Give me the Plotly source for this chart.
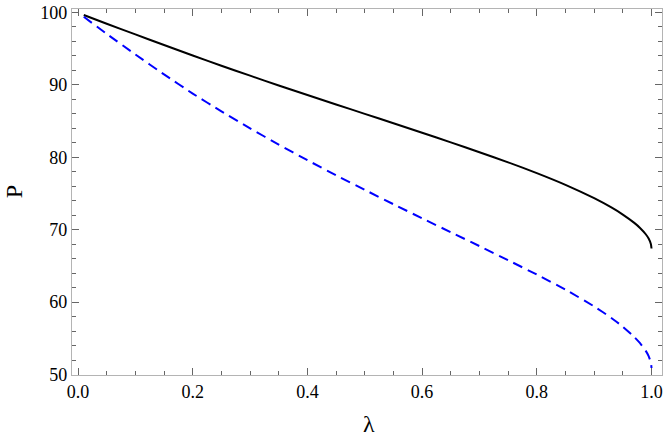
import plotly.graph_objects as go

# lambda values and the two P curves
lam = [0.01, 0.05, 0.1, 0.15, 0.2, 0.25, 0.3, 0.35, 0.4, 0.45, 0.5, 0.55, 0.6,
       0.65, 0.7, 0.75, 0.8, 0.85, 0.9, 0.93, 0.95, 0.97, 0.98, 0.99, 0.995,
       0.999, 1.0]
p_solid = [99.65, 98.45, 96.97, 95.5, 94.06, 92.65, 91.27, 89.92, 88.6, 87.3,
           86.0, 84.7, 83.39, 82.06, 80.7, 79.3, 77.82, 76.2, 74.35, 73.07,
           72.09, 70.94, 70.24, 69.37, 68.77, 68.0, 67.4]
p_dashed = [99.4, 97.05, 94.2, 91.45, 88.8, 86.35, 84.0, 81.75, 79.6, 77.5,
            75.5, 73.52, 71.57, 69.65, 67.73, 65.78, 63.8, 61.72, 59.4, 57.81,
            56.6, 55.18, 54.33, 53.26, 52.54, 51.61, 50.9]

FONT = "Liberation Serif, Times New Roman, serif"
FRAME = "#b4b4b4"
TICK = "#666666"

fig = go.Figure()
fig.add_trace(go.Scatter(
    x=lam, y=p_solid, mode="lines",
    line=dict(color="black", width=2, shape="spline", smoothing=0.5),
    showlegend=False,
))
fig.add_trace(go.Scatter(
    x=lam, y=p_dashed, mode="lines",
    line=dict(color="#0000ff", width=2, dash="10px,6px", shape="spline", smoothing=0.5),
    showlegend=False,
))

axis_common = dict(
    showgrid=False, zeroline=False,
    showline=True, linecolor=FRAME, linewidth=1.2,
    mirror="ticks", ticks="inside", ticklen=7, tickcolor=TICK, tickwidth=1,
    tickfont=dict(family=FONT, size=18, color="black"),
)

fig.update_xaxes(
    range=[-0.0105, 1.0183], tick0=0, dtick=0.2, tickformat=".1f",
    minor=dict(dtick=0.05, ticks="inside", ticklen=4, tickcolor=TICK),
    **axis_common,
)
fig.update_yaxes(
    range=[49.93, 100.48], tick0=0, dtick=10,
    minor=dict(dtick=2, ticks="inside", ticklen=4, tickcolor=TICK),
    **axis_common,
)

# axis labels placed as annotations (Mathematica-style frame labels)
fig.add_annotation(text="P", xref="paper", yref="paper", x=-0.099, y=0.501,
                   xanchor="center", yanchor="middle", textangle=-90,
                   showarrow=False, font=dict(family=FONT, size=24, color="black"))
fig.add_annotation(text="λ", xref="paper", yref="paper", x=0.503, y=-0.134,
                   xanchor="center", yanchor="middle",
                   showarrow=False, font=dict(family=FONT, size=24, color="black"))

fig.update_layout(
    width=664, height=440,
    margin=dict(l=72, r=2, t=9, b=65),
    plot_bgcolor="white", paper_bgcolor="white",
)

# the page's default body margin would shift the figure by 8px
fig.write_html("out.html", config={"displayModeBar": False},
               post_script="document.body.style.margin='0';")
